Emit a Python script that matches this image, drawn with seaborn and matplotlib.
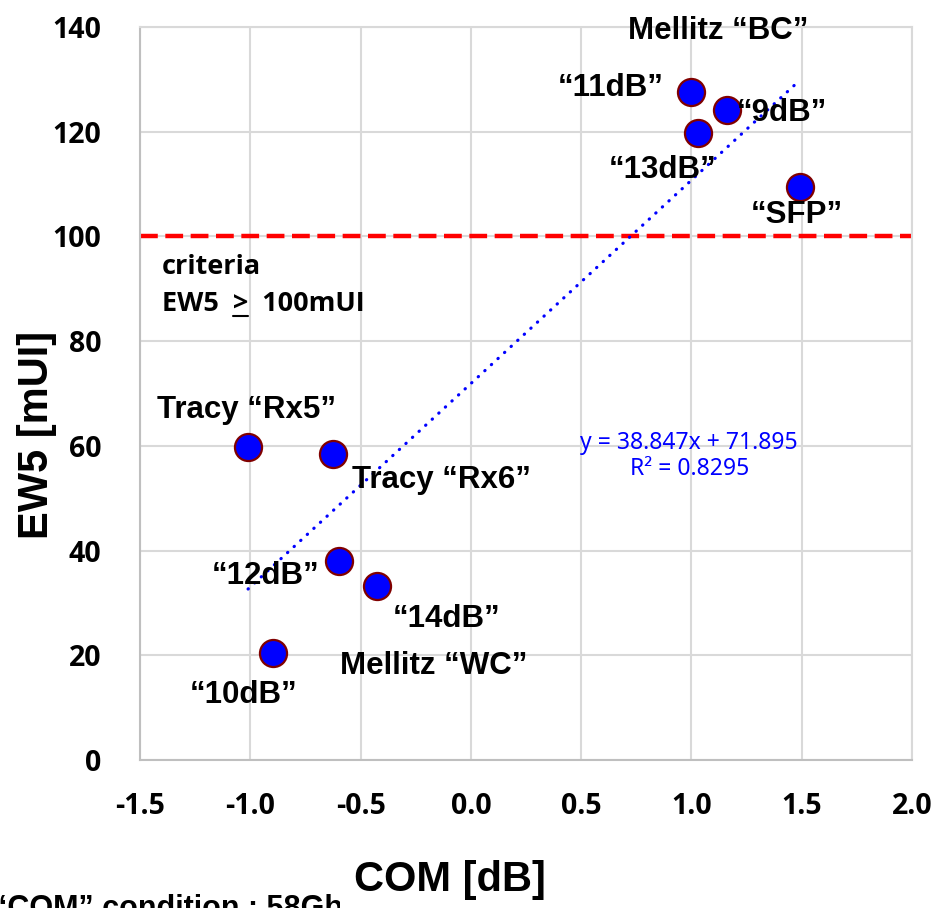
import matplotlib
matplotlib.use("Agg")
import matplotlib.pyplot as plt
from matplotlib.font_manager import FontProperties
from matplotlib.lines import Line2D
import numpy as np
import pandas as pd
import seaborn as sns

# Measured points: COM margin vs. EW5 eye width
labels = ["“11dB”", "“9dB”", "“13dB”", "“SFP”", "Tracy “Rx5”",
          "Tracy “Rx6”", "“12dB”", "“14dB”", "“10dB”"]
com_db = [1.00, 1.16, 1.03, 1.49, -1.01, -0.625, -0.60, -0.425, -0.895]
ew5_mui = [127.6, 124.2, 119.8, 109.5, 59.8, 58.5, 38.0, 33.3, 20.5]

# Linear trend reported for the data
slope = 38.847
intercept = 71.895
r_squared = 0.8295

criteria_mui = 100

x_ticks = [-1.5, -1.0, -0.5, 0.0, 0.5, 1.0, 1.5, 2.0]
y_ticks = [0, 20, 40, 60, 80, 100, 120, 140]

# Text label anchor positions (data coordinates)
label_pos = {
    "Mellitz “BC”": (1.12, 139.3),
    "“11dB”": (0.635, 128.3),
    "“9dB”": (1.41, 123.6),
    "“13dB”": (0.87, 112.6),
    "“SFP”": (1.478, 104.0),
    "Tracy “Rx5”": (-1.015, 66.8),
    "Tracy “Rx6”": (-0.135, 53.5),
    "“12dB”": (-0.93, 35.1),
    "“14dB”": (-0.11, 26.9),
    "Mellitz “WC”": (-0.17, 17.9),
    "“10dB”": (-1.03, 12.4),
}

df = pd.DataFrame({"COM": com_db, "EW5": ew5_mui, "name": labels})

sns.set_theme(style="white")
plt.rcParams["font.family"] = ["Liberation Sans", "DejaVu Sans"]

fig = plt.figure(figsize=(9.32, 9.08), dpi=100)
ax = fig.add_axes([140 / 932, 1 - 760 / 908, 772 / 932, 733 / 908])

ax.set_xlim(-1.5, 2.0)
ax.set_ylim(0, 140)
ax.set_xticks(x_ticks)
ax.set_yticks(y_ticks)
ax.set_xticklabels([f"{v:.1f}" for v in x_ticks])
ax.set_yticklabels([f"{v:d}" for v in y_ticks])

grid_color = "#d9d9d9"
ax.grid(True, color=grid_color, linewidth=1.5, zorder=0)
ax.set_axisbelow(True)
for side in ["left", "bottom", "right", "top"]:
    ax.spines[side].set_color(grid_color)
    ax.spines[side].set_linewidth(1.5)
ax.spines["left"].set_color("#bfbfbf")
ax.spines["bottom"].set_color("#bfbfbf")

tick_font = FontProperties(family="Open Sans", weight="bold", size=20.5)
ax.tick_params(axis="both", length=0)
ax.tick_params(axis="x", pad=23)
ax.tick_params(axis="y", pad=28)
for t in ax.get_xticklabels() + ax.get_yticklabels():
    t.set_fontproperties(tick_font)
    t.set_color("black")

# Criteria line
ax.axhline(criteria_mui, color="#ff0000", linewidth=3.2, dashes=(4.0, 1.7),
           dash_capstyle="butt", zorder=2)

# Trend line over the data range
xs = np.array([min(com_db), max(com_db)])
trend = pd.DataFrame({"COM": xs, "EW5": slope * xs + intercept})
sns.lineplot(data=trend, x="COM", y="EW5", ax=ax, color="#0000ff",
             linewidth=2.3, linestyle=(0, (0.1, 2.7)),
             dash_capstyle="round", zorder=3, legend=False)

sns.scatterplot(data=df, x="COM", y="EW5", ax=ax, s=380, color="#0000ff",
                edgecolor="#800000", linewidth=1.6, zorder=4, legend=False)

for text, (lx, ly) in label_pos.items():
    ax.text(lx, ly, text, ha="center", va="center", fontsize=22.5,
            fontweight="bold", color="black", zorder=5)

eq_font = FontProperties(family="Noto Sans", size=16.5)
ax.text(0.99, 60.5, f"y = {slope}x + {intercept}", ha="center", va="center",
        fontproperties=eq_font, color="#0000ff", zorder=5)
ax.text(0.99, 55.5, f"R² = {r_squared}", ha="center", va="center",
        fontproperties=eq_font, color="#0000ff", zorder=5)

crit_font = FontProperties(family="Open Sans", weight="bold", size=19.5)
ax.text(-1.40, 94.2, "criteria", ha="left", va="center", color="black",
        fontproperties=crit_font, zorder=5)
crit_y = 85.8
ax.text(-1.40, crit_y, "EW5  >  100mUI", ha="left", va="baseline", color="black",
        fontproperties=crit_font, zorder=5)

ax.set_xlabel("COM [dB]", fontsize=30, fontweight="bold", color="black",
              bbox=dict(facecolor="white", edgecolor="none", pad=10))
ax.set_ylabel("EW5 [mUI]", fontsize=30, fontweight="bold", color="black")
ax.xaxis.set_label_coords((450 - 140) / 772, (760 - 880) / 733)
ax.xaxis.label.set_va("center")
ax.yaxis.set_label_coords((37 - 140) / 772, (760 - 435) / 733)
ax.yaxis.label.set_va("center")
ax.xaxis.label.set_zorder(10)

fig.text(-8 / 932, 1 - 917 / 908, "“COM” condition : 58Gbps", ha="left",
         va="baseline", fontsize=22, fontweight="bold", color="black", zorder=-1)

# Underline the ">" sign so it reads as "greater than or equal"
fig.canvas.draw()
renderer = fig.canvas.get_renderer()
w_pre, _, _ = renderer.get_text_width_height_descent("EW5  >", crit_font, ismath=False)
w_gt, _, _ = renderer.get_text_width_height_descent(">", crit_font, ismath=False)
x0_disp, y0_disp = ax.transData.transform((-1.40, crit_y))
ux0 = x0_disp + w_pre - w_gt
ux1 = x0_disp + w_pre
uy = y0_disp - 5
inv = fig.transFigure.inverted()
(fx0, fy), (fx1, _) = inv.transform([(ux0, uy), (ux1, uy)])
fig.add_artist(Line2D([fx0, fx1], [fy, fy], color="black", linewidth=1.5,
                      transform=fig.transFigure, zorder=6))

fig.savefig("out.png", dpi=100)
